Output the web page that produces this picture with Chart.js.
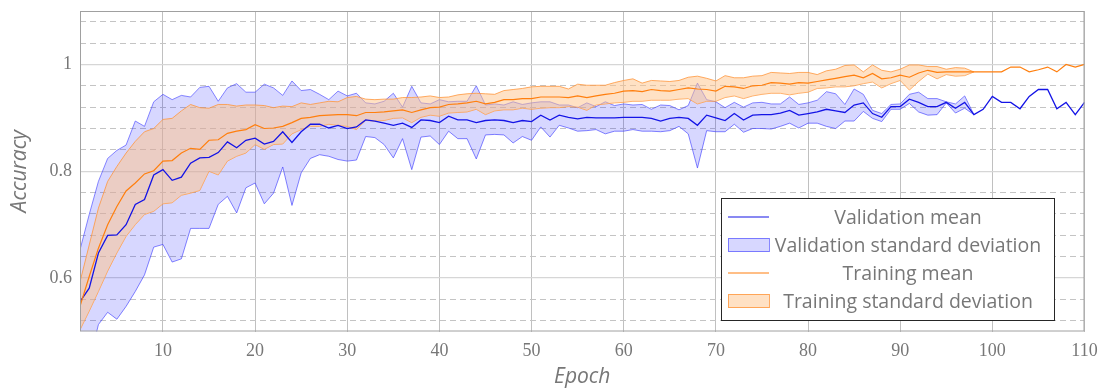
<!DOCTYPE html>
<html>
<head>
<meta charset="utf-8">
<script src="https://cdn.jsdelivr.net/npm/chart.js@4/dist/chart.umd.min.js"></script>
<style>
	html, body { margin: 0; padding: 0; background: #fff; }
	canvas { display: block; }
</style>
</head>
<body>
<canvas id="accChart" width="1106" height="388"></canvas>
<script>
// epochs 1..110 (x categories)
const epochs = Array.from( { length: 110 }, ( _, i ) => i + 1 );

const xTicks = [ 10, 20, 30, 40, 50, 60, 70, 80, 90, 100, 110 ];
const yTicks = [ 0.6, 0.8, 1.0 ];

const valMean = [
	0.556, 0.581, 0.647, 0.680, 0.681, 0.700, 0.738, 0.747, 0.793, 0.803,
	0.783, 0.789, 0.815, 0.825, 0.826, 0.835, 0.855, 0.844, 0.858, 0.862,
	0.851, 0.856, 0.874, 0.854, 0.874, 0.888, 0.888, 0.881, 0.886, 0.880,
	0.883, 0.896, 0.894, 0.890, 0.886, 0.890, 0.882, 0.896, 0.895, 0.891,
	0.903, 0.896, 0.896, 0.891, 0.895, 0.896, 0.895, 0.891, 0.895, 0.893,
	0.905, 0.896, 0.905, 0.901, 0.898, 0.901, 0.900, 0.900, 0.900, 0.901,
	0.901, 0.901, 0.899, 0.894, 0.899, 0.901, 0.899, 0.886, 0.905, 0.900,
	0.895, 0.908, 0.896, 0.905, 0.906, 0.906, 0.909, 0.914, 0.905, 0.908,
	0.911, 0.916, 0.913, 0.910, 0.924, 0.928, 0.908, 0.901, 0.921, 0.921,
	0.935, 0.929, 0.921, 0.921, 0.929, 0.918, 0.929, 0.906, 0.916, 0.940,
	0.929, 0.929, 0.917, 0.940, 0.953, 0.953, 0.917, 0.929, 0.906, 0.929,
];
const valUpper = [
	0.653, 0.719, 0.781, 0.824, 0.839, 0.849, 0.894, 0.884, 0.930, 0.944,
	0.934, 0.942, 0.939, 0.957, 0.959, 0.931, 0.956, 0.964, 0.948, 0.948,
	0.963, 0.956, 0.942, 0.969, 0.951, 0.953, 0.944, 0.934, 0.950, 0.941,
	0.946, 0.928, 0.926, 0.931, 0.946, 0.920, 0.959, 0.928, 0.926, 0.934,
	0.930, 0.931, 0.931, 0.960, 0.924, 0.926, 0.924, 0.930, 0.925, 0.928,
	0.930, 0.930, 0.924, 0.924, 0.919, 0.928, 0.921, 0.930, 0.923, 0.926,
	0.924, 0.925, 0.916, 0.924, 0.923, 0.915, 0.923, 0.965, 0.934, 0.930,
	0.919, 0.929, 0.920, 0.928, 0.929, 0.926, 0.926, 0.939, 0.925, 0.928,
	0.933, 0.949, 0.945, 0.925, 0.954, 0.944, 0.914, 0.908, 0.925, 0.926,
	0.944, 0.948, 0.936, 0.936, 0.930, 0.926, 0.941, 0.906,
];
const valLower = [
	0.459, 0.443, 0.513, 0.536, 0.523, 0.547, 0.575, 0.606, 0.658, 0.663,
	0.630, 0.636, 0.693, 0.693, 0.693, 0.738, 0.753, 0.722, 0.769, 0.778,
	0.739, 0.759, 0.808, 0.736, 0.797, 0.824, 0.831, 0.828, 0.822, 0.819,
	0.821, 0.865, 0.863, 0.850, 0.825, 0.861, 0.803, 0.864, 0.866, 0.850,
	0.875, 0.861, 0.861, 0.823, 0.868, 0.869, 0.868, 0.853, 0.865, 0.858,
	0.883, 0.864, 0.886, 0.881, 0.875, 0.876, 0.878, 0.870, 0.875, 0.875,
	0.878, 0.875, 0.875, 0.874, 0.876, 0.884, 0.870, 0.806, 0.876, 0.874,
	0.874, 0.888, 0.873, 0.880, 0.880, 0.879, 0.884, 0.890, 0.881, 0.890,
	0.890, 0.884, 0.880, 0.894, 0.894, 0.912, 0.899, 0.893, 0.916, 0.916,
	0.927, 0.911, 0.905, 0.906, 0.928, 0.909, 0.918, 0.906,
];

const trainMean = [
	0.547, 0.603, 0.656, 0.700, 0.734, 0.763, 0.778, 0.795, 0.801, 0.819,
	0.820, 0.834, 0.843, 0.841, 0.858, 0.859, 0.871, 0.875, 0.878, 0.887,
	0.880, 0.881, 0.884, 0.891, 0.899, 0.901, 0.904, 0.905, 0.906, 0.906,
	0.904, 0.910, 0.910, 0.911, 0.913, 0.915, 0.910, 0.915, 0.919, 0.920,
	0.925, 0.926, 0.928, 0.931, 0.926, 0.929, 0.934, 0.934, 0.936, 0.936,
	0.939, 0.939, 0.939, 0.938, 0.941, 0.938, 0.941, 0.944, 0.946, 0.950,
	0.951, 0.949, 0.953, 0.951, 0.950, 0.953, 0.956, 0.954, 0.953, 0.950,
	0.959, 0.958, 0.955, 0.960, 0.961, 0.966, 0.965, 0.963, 0.966, 0.965,
	0.968, 0.971, 0.974, 0.977, 0.980, 0.975, 0.983, 0.973, 0.975, 0.980,
	0.976, 0.984, 0.989, 0.985, 0.986, 0.986, 0.986, 0.986, 0.986, 0.986,
	0.986, 0.995, 0.995, 0.986, 0.990, 0.995, 0.986, 1.000, 0.995, 1.000,
];
const trainUpper = [
	0.593, 0.662, 0.731, 0.781, 0.809, 0.834, 0.856, 0.874, 0.880, 0.897,
	0.899, 0.913, 0.925, 0.919, 0.918, 0.925, 0.925, 0.922, 0.924, 0.924,
	0.923, 0.919, 0.922, 0.921, 0.928, 0.925, 0.928, 0.931, 0.930, 0.938,
	0.940, 0.935, 0.934, 0.935, 0.935, 0.938, 0.938, 0.939, 0.941, 0.938,
	0.939, 0.943, 0.945, 0.946, 0.945, 0.944, 0.951, 0.953, 0.955, 0.958,
	0.959, 0.959, 0.959, 0.954, 0.963, 0.961, 0.961, 0.961, 0.966, 0.970,
	0.973, 0.965, 0.970, 0.969, 0.968, 0.970, 0.976, 0.978, 0.974, 0.969,
	0.979, 0.975, 0.975, 0.978, 0.979, 0.985, 0.984, 0.983, 0.985, 0.985,
	0.981, 0.988, 0.991, 0.998, 0.999, 0.986, 0.999, 0.989, 0.986, 0.991,
	0.999, 0.999, 0.996, 0.996, 0.991, 0.994, 0.993, 0.986,
];
const trainLower = [
	0.503, 0.538, 0.575, 0.613, 0.647, 0.678, 0.700, 0.719, 0.725, 0.739,
	0.741, 0.755, 0.759, 0.764, 0.800, 0.793, 0.819, 0.828, 0.834, 0.850,
	0.841, 0.850, 0.851, 0.870, 0.878, 0.884, 0.884, 0.888, 0.886, 0.884,
	0.878, 0.895, 0.894, 0.895, 0.899, 0.900, 0.891, 0.901, 0.905, 0.903,
	0.909, 0.910, 0.911, 0.916, 0.906, 0.913, 0.915, 0.915, 0.918, 0.916,
	0.918, 0.919, 0.919, 0.921, 0.920, 0.914, 0.924, 0.926, 0.928, 0.929,
	0.931, 0.931, 0.933, 0.933, 0.933, 0.935, 0.936, 0.926, 0.931, 0.931,
	0.938, 0.941, 0.936, 0.941, 0.944, 0.946, 0.946, 0.943, 0.946, 0.948,
	0.955, 0.956, 0.958, 0.958, 0.960, 0.964, 0.967, 0.956, 0.964, 0.970,
	0.952, 0.968, 0.982, 0.973, 0.981, 0.978, 0.979, 0.986,
];

const legendLabels = [
	'Validation mean',
	'Validation standard deviation',
	'Training mean',
	'Training standard deviation',
];

const BLUE = 'rgb(20,20,230)';
const BLUE_EDGE = 'rgba(70,70,255,0.65)';
const BLUE_FILL = 'rgba(0,0,255,0.155)';
const ORANGE = 'rgb(255,127,14)';
const ORANGE_EDGE = 'rgba(255,150,60,0.8)';
const ORANGE_FILL = 'rgba(255,195,137,0.5)';
const TEXT = '#777777';
const SANS = '"Open Sans"';

const pts = ( arr ) => arr.map( ( v, i ) => ( { x: epochs[ i ], y: v } ) );

const lineBase = { pointRadius: 0, tension: 0, clip: 0, fill: false };

// scale paddings from tick labels would shift the plot area; zero them
const noPad = ( s ) => {
	s.paddingTop = 0;
	s.paddingBottom = 0;
	s.paddingLeft = 0;
	s.paddingRight = 0;
};

// frame + legend box
const decorPlugin = {
	id: 'decor',
	afterDraw( chart ) {
		const c = chart.ctx;
		const a = chart.chartArea;
		c.save();
		c.strokeStyle = '#a0a0a0';
		c.lineWidth = 1;
		c.strokeRect( a.left + 0.5, a.top + 0.5, a.right - a.left - 1, a.bottom - a.top - 1 );

		const bx = 721, by = 198, bw = 333, bh = 122;
		c.fillStyle = '#fff';
		c.fillRect( bx, by, bw, bh );
		c.strokeStyle = '#262626';
		c.strokeRect( bx + 0.5, by + 0.5, bw, bh );

		const rows = [ 217, 245, 273, 301 ];
		const sx = 728, sw = 41;
		c.strokeStyle = BLUE;
		c.lineWidth = 1.2;
		c.beginPath(); c.moveTo( sx, rows[ 0 ] ); c.lineTo( sx + sw, rows[ 0 ] ); c.stroke();
		c.fillStyle = BLUE_FILL;
		c.fillRect( sx, rows[ 1 ] - 7, sw, 14 );
		c.strokeStyle = BLUE_EDGE; c.lineWidth = 1;
		c.strokeRect( sx + 0.5, rows[ 1 ] - 6.5, sw, 13 );
		c.strokeStyle = ORANGE; c.lineWidth = 1.2;
		c.beginPath(); c.moveTo( sx, rows[ 2 ] ); c.lineTo( sx + sw, rows[ 2 ] ); c.stroke();
		c.fillStyle = ORANGE_FILL;
		c.fillRect( sx, rows[ 3 ] - 7, sw, 14 );
		c.strokeStyle = ORANGE_EDGE; c.lineWidth = 1;
		c.strokeRect( sx + 0.5, rows[ 3 ] - 6.5, sw, 13 );

		c.fillStyle = TEXT;
		c.font = '19.5px ' + SANS;
		c.textAlign = 'center';
		c.textBaseline = 'middle';
		legendLabels.forEach( ( t, i ) => c.fillText( t, 908, rows[ i ] + 1 ) );
		c.restore();
	},
};

new Chart( document.getElementById( 'accChart' ), {
	type: 'line',
	data: {
		datasets: [
			{ ...lineBase, label: 'Training mean', data: pts( trainMean ), borderColor: ORANGE, borderWidth: 1.2, order: 1 },
			{ ...lineBase, label: 'Validation mean', data: pts( valMean ), borderColor: BLUE, borderWidth: 1.3, order: 2 },
			{ ...lineBase, label: 'Training upper', data: pts( trainUpper ), borderColor: ORANGE_EDGE, borderWidth: 1, backgroundColor: ORANGE_FILL, fill: '+1', order: 3 },
			{ ...lineBase, label: 'Training lower', data: pts( trainLower ), borderColor: ORANGE_EDGE, borderWidth: 1, order: 3 },
			{ ...lineBase, label: 'Validation upper', data: pts( valUpper ), borderColor: BLUE_EDGE, borderWidth: 1, backgroundColor: BLUE_FILL, fill: '+1', order: 4 },
			{ ...lineBase, label: 'Validation lower', data: pts( valLower ), borderColor: BLUE_EDGE, borderWidth: 1, order: 4 },
		],
	},
	options: {
		responsive: false,
		animation: false,
		layout: { padding: { top: 11, right: 21.5, left: 0, bottom: 0 } },
		plugins: { legend: { display: false }, tooltip: { enabled: false } },
		scales: {
			x: {
				type: 'linear',
				min: 1,
				max: 110,
				afterBuildTicks: ( s ) => { s.ticks = xTicks.map( ( v ) => ( { value: v } ) ); },
				afterFit: ( s ) => { s.height = 56.5; noPad( s ); },
				grid: { color: '#c0c0c0', lineWidth: 1, drawTicks: false },
				border: { display: false },
				ticks: {
					color: TEXT,
					padding: 9,
					maxRotation: 0,
					font: { family: 'Liberation Serif', size: 18 },
				},
				title: {
					display: true,
					text: 'Epoch',
					color: TEXT,
					padding: { top: 0, bottom: 0 },
					font: { family: SANS, style: 'italic', size: 21, lineHeight: 1.0 },
				},
			},
			y: {
				min: 0.5,
				max: 1.1,
				afterBuildTicks: ( s ) => { s.ticks = yTicks.map( ( v ) => ( { value: v } ) ); },
				afterFit: ( s ) => { s.width = 80; noPad( s ); },
				grid: { color: '#d6d6d6', lineWidth: 1.3, drawTicks: false },
				border: { display: false },
				ticks: {
					color: TEXT,
					padding: 8,
					font: { family: 'Liberation Serif', size: 18 },
					callback: ( v ) => String( Math.round( v * 10 ) / 10 ),
				},
				title: {
					display: true,
					text: 'Accuracy',
					color: TEXT,
					padding: { top: 10, bottom: 0 },
					font: { family: SANS, style: 'italic', size: 21, lineHeight: 1.0 },
				},
			},
			yMinor: {
				position: 'right',
				min: 0.5,
				max: 1.1,
				afterBuildTicks: ( s ) => {
					const t = [];
					for ( let k = 13; k <= 27; k++ ) {
						t.push( { value: k * 0.04 } );
					}
					s.ticks = t;
				},
				afterFit: ( s ) => { s.width = 0; noPad( s ); },
				ticks: { display: false },
				grid: {
					drawTicks: false,
					lineWidth: 1,
					color: ( ctx ) => {
						const v = ctx.tick ? ctx.tick.value : 0;
						const major = Math.abs( v * 5 - Math.round( v * 5 ) ) < 1e-6;
						return major ? 'rgba(0,0,0,0)' : '#c4c4c4';
					},
				},
				border: { display: false, dash: [ 6, 4 ] },
			},
		},
	},
	plugins: [ decorPlugin ],
} );
</script>
</body>
</html>
